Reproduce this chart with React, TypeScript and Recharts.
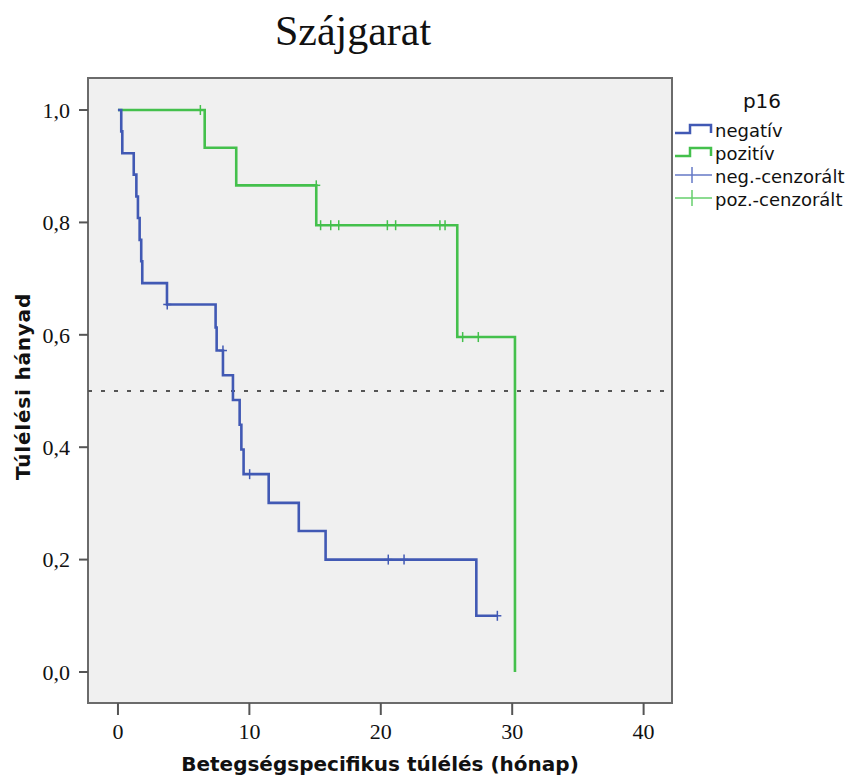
import React from "react";
import {
  ComposedChart,
  Line,
  Scatter,
  XAxis,
  YAxis,
  ReferenceLine,
  ReferenceArea,
} from "recharts";

// Kaplan-Meier steps (months, survival fraction)
const negTimes = [0, 0.25, 0.33, 1.2, 1.4, 1.52, 1.65, 1.77, 1.85, 3.73, 7.43, 7.51, 7.99, 8.75, 9.26, 9.39, 9.56, 11.47, 13.76, 15.8, 27.27, 28.87];
const negSurv = [1, 0.962, 0.923, 0.885, 0.846, 0.808, 0.769, 0.731, 0.692, 0.654, 0.613, 0.572, 0.528, 0.484, 0.44, 0.396, 0.352, 0.301, 0.251, 0.2, 0.1, 0.1];
const negCensTimes = [3.75, 7.99, 10.02, 20.57, 21.77, 28.87];
const negCensSurv = [0.654, 0.572, 0.352, 0.2, 0.2, 0.1];

const posTimes = [0, 6.6, 9.0, 15.09, 25.82, 30.21];
const posSurv = [1, 0.933, 0.866, 0.795, 0.596, 0];
const posCensTimes = [6.27, 15.09, 15.42, 16.19, 16.8, 20.5, 21.13, 24.5, 24.89, 26.23, 27.42];
const posCensSurv = [1, 0.866, 0.795, 0.795, 0.795, 0.795, 0.795, 0.795, 0.795, 0.596, 0.596];

const xTicks = [0, 10, 20, 30, 40];
const yTicks = [0, 0.2, 0.4, 0.6, 0.8, 1.0];

const BLUE = "#4159b4";
const GREEN = "#44c04c";
const BLUE_C = "#6479c6";
const GREEN_C = "#66cf6c";

const X_DOMAIN: [number, number] = [-2.28, 42.16];
const Y_DOMAIN: [number, number] = [-0.0552, 1.057];

const zip = (t: number[], s: number[]) => t.map((v, i) => ({ t: v, s: s[i] }));

const negData = zip(negTimes, negSurv);
const negCens = zip(negCensTimes, negCensSurv);
const posData = zip(posTimes, posSurv);
const posCens = zip(posCensTimes, posCensSurv);

const censorMark = (color: string) => (props: any) => {
  const { cx, cy } = props;
  if (cx == null || cy == null) return <g />;
  return (
    <g>
      <line x1={cx} x2={cx} y1={cy - 5} y2={cy + 5} stroke={color} strokeWidth={1.5} />
      <line x1={cx - 4} x2={cx + 4} y1={cy} y2={cy} stroke={color} strokeWidth={1.5} />
    </g>
  );
};

const tickFont = { fontFamily: "Liberation Serif", fontSize: 22, fill: "#111" };
const labelFont = { fontFamily: "DejaVu Sans", fontSize: 20, fontWeight: 700, fill: "#111" };

const legendFont = { fontFamily: "DejaVu Sans", fontSize: 18, fill: "#111" };

const Legend16 = () => (
  <svg width={179} height={140} style={{ position: "absolute", left: 675, top: 80 }}>
    <text x={87} y={28} textAnchor="middle" style={{ ...legendFont, fontSize: 20 }}>p16</text>
    <path d="M0,53 H15 V45 H36 V53" fill="none" stroke={BLUE} strokeWidth={2.5} />
    <text x={40} y={57} style={legendFont}>negatív</text>
    <path d="M0,76 H15 V68 H36 V76" fill="none" stroke={GREEN} strokeWidth={2.5} />
    <text x={40} y={80} style={legendFont}>pozitív</text>
    <line x1={0} x2={37} y1={95} y2={95} stroke={BLUE_C} strokeWidth={1.5} />
    <line x1={17} x2={17} y1={87} y2={103} stroke={BLUE_C} strokeWidth={1.5} />
    <text x={40} y={103} style={legendFont}>neg.-cenzorált</text>
    <line x1={0} x2={37} y1={118} y2={118} stroke={GREEN_C} strokeWidth={1.5} />
    <line x1={17} x2={17} y1={110} y2={126} stroke={GREEN_C} strokeWidth={1.5} />
    <text x={40} y={126} style={legendFont}>poz.-cenzorált</text>
  </svg>
);

export default function App() {
  return (
    <div style={{ position: "fixed", left: 0, top: 0, width: 854, height: 776, background: "#fff" }}>
      <div
        style={{
          position: "absolute",
          left: 253,
          width: 200,
          top: 6,
          textAlign: "center",
          fontFamily: "Liberation Serif",
          fontSize: 42,
          lineHeight: "50px",
          color: "#111",
        }}
      >
        Szájgarat
      </div>
      <ComposedChart
        width={854}
        height={776}
        margin={{ top: 78, right: 182, bottom: 0, left: 0 }}
      >
        <ReferenceArea
          x1={X_DOMAIN[0]}
          x2={X_DOMAIN[1]}
          y1={Y_DOMAIN[0]}
          y2={Y_DOMAIN[1]}
          fill="#f0f0f0"
          fillOpacity={1}
          stroke="#6b6b6b"
          strokeWidth={2}
          ifOverflow="visible"
        />
        <XAxis
          type="number"
          dataKey="t"
          domain={X_DOMAIN}
          ticks={xTicks}
          allowDataOverflow
          height={73}
          axisLine={false}
          tickSize={12}
          tickMargin={8}
          tickLine={{ stroke: "#555", strokeWidth: 2 }}
          tick={tickFont}
          label={{ value: "Betegségspecifikus túlélés (hónap)", position: "insideBottom", offset: 5, style: labelFont }}
        />
        <YAxis
          type="number"
          domain={Y_DOMAIN}
          ticks={yTicks}
          allowDataOverflow
          width={88}
          axisLine={false}
          tickSize={9}
          tickMargin={9}
          tickLine={{ stroke: "#555", strokeWidth: 2 }}
          tick={tickFont}
          tickFormatter={(v: number) => v.toFixed(1).replace(".", ",")}
          label={{
            value: "Túlélési hányad",
            angle: -90,
            position: "insideLeft",
            offset: 23,
            dy: -4,
            style: { ...labelFont, textAnchor: "middle", letterSpacing: 0.8 },
          }}
        />
        <ReferenceLine y={0.5} stroke="#555" strokeWidth={2} strokeDasharray="4 9" />
        <Line
          data={posData}
          dataKey="s"
          type="stepAfter"
          stroke={GREEN}
          strokeWidth={2.6}
          dot={false}
          activeDot={false}
          isAnimationActive={false}
        />
        <Line
          data={negData}
          dataKey="s"
          type="stepAfter"
          stroke={BLUE}
          strokeWidth={2.6}
          dot={false}
          activeDot={false}
          isAnimationActive={false}
        />
        <Scatter data={posCens} dataKey="s" shape={censorMark(GREEN)} isAnimationActive={false} />
        <Scatter data={negCens} dataKey="s" shape={censorMark(BLUE)} isAnimationActive={false} />
      </ComposedChart>
      <Legend16 />
    </div>
  );
}
